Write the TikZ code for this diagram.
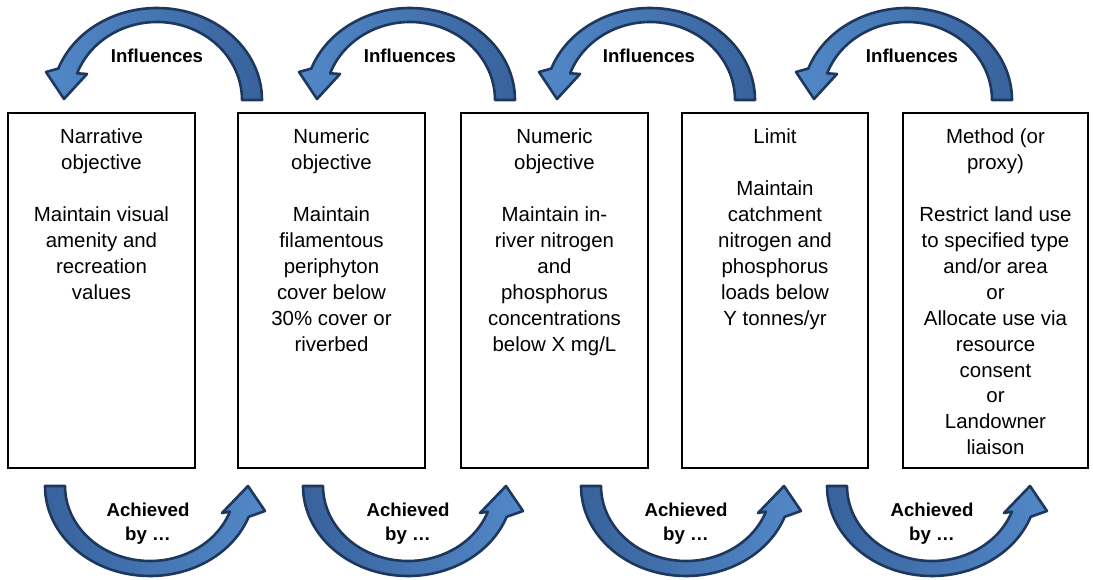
\documentclass[tikz,border=0pt]{standalone}
\usepackage{fontspec}
\setmainfont{Liberation Sans}
\definecolor{blueL}{RGB}{82,136,200}
\definecolor{blueD}{RGB}{56,98,156}
\definecolor{blueB}{RGB}{30,55,92}
\tikzset{
  x=1bp, y=-1bp,
  box/.style={draw=black, line width=1.4bp},
  boxtext/.style={anchor=north, align=center, inner sep=0pt,
    font=\fontsize{20.5}{26}\selectfont},
  lab/.style={anchor=base, align=center, inner sep=0pt,
    font=\fontsize{18.7}{24}\selectfont\bfseries},
  lab2/.style={anchor=north, align=center, inner sep=0pt,
    font=\fontsize{18.7}{24}\selectfont\bfseries},
  arrowshape/.style={draw=blueB, line width=2.6bp, line join=round},
}
\newcommand{\toparrow}[1]{%
  \begin{scope}[shift={(#1,100)}]
    \shadedraw[arrowshape, left color=blueL, right color=blueD]
      (0:105 and 92) arc[start angle=0, end angle=-160, x radius=105, y radius=92]
      -- (-111,-28) -- (-93,-1) -- (-70,-26)
      -- (-160:85 and 78) arc[start angle=-160, end angle=0, x radius=85, y radius=78]
      -- cycle;
  \end{scope}}
\newcommand{\botarrow}[1]{%
  \begin{scope}[shift={(#1,486)}]
    \shadedraw[arrowshape, left color=blueD, right color=blueL]
      (180:105 and 90) arc[start angle=180, end angle=20, x radius=105, y radius=90]
      -- (115,25) -- (98,0) -- (72,27)
      -- (20:85 and 75) arc[start angle=20, end angle=180, x radius=85, y radius=75]
      -- cycle;
  \end{scope}}
\begin{document}
\begin{tikzpicture}
\useasboundingbox (0,0) rectangle (1093,580);
\fill[white] (0,0) rectangle (1093,580);

% boxes
\draw[box] (8,113) rectangle (195,468);
\draw[box] (238,113) rectangle (425,468);
\draw[box] (461,113) rectangle (648,468);
\draw[box] (682,113) rectangle (868,468);
\draw[box] (903,113) rectangle (1088,468);

\node[boxtext] (t1) at (101.5,125.5) {\strut Narrative\\objective\\[26bp]Maintain visual\\amenity and\\recreation\\values};
\node[boxtext] (t2) at (331.5,125.5) {\strut Numeric\\objective\\[26bp]Maintain\\filamentous\\periphyton\\cover below\\30\% cover or\\riverbed};
\node[boxtext] (t3) at (554.5,125.5) {\strut Numeric\\objective\\[26bp]Maintain in-\\river nitrogen\\and\\phosphorus\\concentrations\\below X mg/L};
\node[boxtext] (t4) at (775,125.5) {\strut Limit\\[26bp]Maintain\\catchment\\nitrogen and\\phosphorus\\loads below\\Y tonnes/yr};
\node[boxtext] (t5) at (995.5,125.5) {\strut Method (or\\proxy)\\[26bp]Restrict land use\\to specified type\\and/or area\\or\\Allocate use via\\resource\\consent\\or\\Landowner\\liaison};

% top arrows
\toparrow{157}
\toparrow{410}
\toparrow{650}
\toparrow{907}
\node[lab] (i1) at (157,63) {Influences};
\node[lab] (i2) at (410,63) {Influences};
\node[lab] (i3) at (649,63) {Influences};
\node[lab] (i4) at (912,63) {Influences};

% bottom arrows
\botarrow{150}
\botarrow{408}
\botarrow{686}
\botarrow{932}
\node[lab2] (a1) at (148,499.5) {\strut Achieved\\by …};
\node[lab2] (a2) at (408,499.5) {\strut Achieved\\by …};
\node[lab2] (a3) at (686,499.5) {\strut Achieved\\by …};
\node[lab2] (a4) at (932,499.5) {\strut Achieved\\by …};
\end{tikzpicture}
\end{document}
